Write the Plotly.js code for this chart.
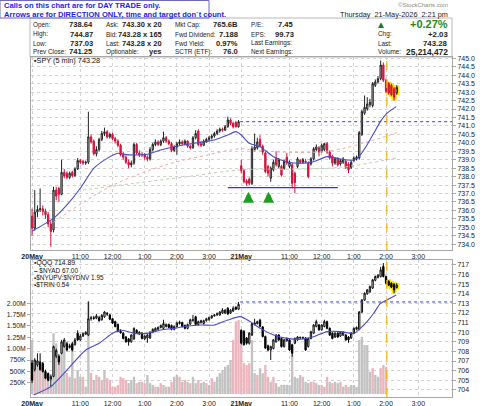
<!DOCTYPE html>
<html><head><meta charset="utf-8">
<script src="https://cdn.plot.ly/plotly-3.0.1.min.js"></script>
<style>html,body{margin:0;padding:0;background:#fff}#chart{width:480px;height:406px}</style>
</head><body><div id="chart"></div>
<script>
// ---------- DATA ----------
const tickBars = [0, 18, 30, 42, 54, 66, 78, 96, 108, 120, 132, 144];
const tickLabels = ['<b>20May</b>', '11:00', '12:00', '1:00', '2:00', '3:00', '<b>21May</b>', '11:00', '12:00', '1:00', '2:00', '3:00'];

const spyOpen = [735.65,734.95,735.90,736.05,736.10,735.95,735.75,735.20,734.85,737.20,
737.30,736.95,738.25,738.20,737.95,738.25,738.05,738.45,738.95,738.90,
738.80,738.85,740.35,740.10,739.35,739.60,740.20,740.55,740.65,740.35,
740.50,740.25,740.10,739.85,739.30,739.15,738.85,738.70,738.80,739.90,
739.40,739.30,739.30,739.15,739.05,739.60,739.90,740.05,739.90,740.10,
740.30,740.10,739.95,739.55,739.75,739.95,740.05,739.95,740.10,739.80,
739.70,740.30,740.70,739.95,739.85,740.10,740.20,740.30,740.40,740.55,
740.70,740.80,740.75,740.95,741.35,741.15,741.20,740.95,
738.64,738.35,737.75,737.85,737.60,739.60,739.70,740.20,739.80,739.40,
738.60,737.90,738.40,739.10,738.60,738.60,738.50,739.15,738.60,738.70,
738.20,738.60,738.95,738.85,738.90,738.80,738.75,739.05,739.60,739.70,
739.50,739.60,739.95,739.45,739.20,738.80,739.05,738.75,738.85,738.90,
738.75,738.55,738.95,739.05,739.10,740.50,741.75,742.00,742.25,742.20,
743.40,743.60,743.80,744.60,743.70,743.50,743.40,743.20,742.95];
const spyHigh = [736.10,737.20,736.30,737.30,736.30,736.10,735.90,735.40,737.40,737.40,
737.40,739.00,738.45,738.30,738.30,738.35,738.55,739.10,739.05,739.00,
738.95,741.84,740.50,740.20,739.80,740.30,740.70,740.90,740.75,740.60,
740.60,740.35,740.20,739.95,739.45,739.25,739.00,738.95,740.00,740.00,
739.55,739.45,739.40,739.25,739.75,740.00,740.20,740.15,740.20,740.66,
740.40,740.20,740.05,739.85,740.05,740.20,740.15,740.20,740.15,739.90,
740.40,740.75,740.80,740.10,740.20,740.30,740.40,740.50,740.65,740.80,
740.90,740.90,741.05,741.55,741.45,741.25,741.30,741.35,
739.00,738.45,737.85,737.95,739.80,740.55,740.30,740.45,739.90,739.50,
738.70,738.60,739.00,739.50,739.10,738.70,739.00,739.40,738.95,738.80,
738.30,739.15,739.05,739.10,739.05,738.90,739.15,739.75,739.90,739.80,
739.95,740.00,740.05,739.55,739.30,739.15,739.15,739.05,739.15,739.00,
738.85,738.95,739.20,739.25,740.70,741.95,742.80,742.70,742.60,743.60,
743.75,743.95,744.87,744.75,743.80,743.60,743.50,743.30,743.40];
const spyLow = [734.50,734.80,735.60,735.90,735.70,735.50,735.00,733.85,734.70,736.60,
736.50,736.90,737.90,737.85,737.85,737.95,738.00,738.40,738.75,738.70,
738.70,738.75,739.95,739.25,739.20,739.50,740.10,740.40,740.25,740.25,
740.15,739.95,739.75,739.20,739.00,738.75,738.50,738.55,738.70,739.30,
739.15,739.15,739.00,738.90,738.95,739.50,739.80,739.80,739.80,740.00,
740.00,739.85,739.45,739.45,739.30,739.85,739.85,739.85,739.70,739.60,
739.65,740.20,739.80,739.75,739.80,740.00,740.10,740.20,740.30,740.45,
740.60,740.65,740.70,740.90,741.05,740.85,740.90,740.90,
738.20,737.60,737.45,737.50,737.50,739.50,739.60,739.75,739.30,738.20,
738.00,737.70,738.30,738.60,738.50,738.00,738.40,738.70,738.50,737.30,
737.03,738.50,738.75,738.75,738.80,737.90,738.65,738.95,739.50,739.20,
739.40,739.50,739.35,739.00,738.60,738.70,738.60,738.65,738.75,738.45,
738.20,738.45,738.85,738.95,739.00,740.40,741.65,741.90,742.10,742.10,
743.30,743.50,743.70,743.60,742.95,742.85,742.75,742.50,742.85];
const spyClose = [734.95,735.90,736.05,736.10,735.95,735.75,735.20,734.75,737.20,736.85,
736.95,738.25,738.05,737.95,738.20,738.05,738.45,738.95,738.85,738.80,
738.85,740.35,740.05,739.35,739.60,740.20,740.55,740.65,740.35,740.50,
740.25,740.10,739.85,739.30,739.15,738.85,738.70,738.80,739.90,739.40,
739.30,739.30,739.15,739.05,739.60,739.90,740.05,739.90,740.10,740.30,
740.10,739.95,739.55,739.75,739.95,740.05,739.95,740.10,739.80,739.70,
740.30,740.55,739.90,739.85,740.10,740.20,740.30,740.40,740.55,740.70,
740.80,740.75,740.95,741.35,741.15,740.95,740.95,741.25,
738.35,737.70,737.60,737.60,739.65,739.75,740.05,739.80,739.45,738.30,
738.20,738.50,738.85,738.70,739.00,738.10,738.90,738.80,738.85,737.60,
737.65,739.05,738.85,739.00,738.85,738.00,739.05,739.65,739.75,739.45,
739.85,739.95,739.45,739.10,738.80,739.05,738.70,738.95,739.05,738.55,
738.40,738.85,739.10,739.15,740.60,741.85,742.10,742.30,742.40,743.50,
743.60,743.80,744.60,743.70,743.05,742.95,742.85,742.70,743.28];

const spyMaBars = [0,8,13,18,23,28,32,35,38,43,48,53,58,63,68,73,76,78,81,85,90,95,100,105,110,115,120,122.4,124.9,127.4,129.9,132.3,135.8];
const spyMaVals = [734.78,735.53,736.32,737.31,738.49,739.08,739.38,739.30,739.28,739.32,739.57,739.77,739.91,740.03,740.17,740.46,740.66,740.46,739.97,739.77,739.18,738.88,738.79,738.88,739.18,739.04,738.98,739.28,739.87,740.56,741.25,741.74,742.14];
const spyMa2Bars = [8,29,50,63,78,83,110,136];
const spyMa2Vals = [735.30,737.40,738.70,739.20,739.65,739.55,739.50,740.60];
const spyMa3Bars = [19,38,58,78,100,115,136];
const spyMa3Vals = [737.20,737.60,738.00,738.40,738.45,738.55,739.10];
const spyPrevClose = 741.25;
const supportBars = [73, 114];
const supportPrice = [737.35, 737.35];
const arrowBars = [80.7, 88.2];
const arrowPrice = [737.1, 737.1];
const highlightFrom = 133;
const markerBar = 132.3;

const qqqOpen = [706.80,706.10,706.60,706.90,706.75,705.90,705.70,705.10,705.40,707.50,
707.50,707.80,708.50,708.80,708.40,708.80,708.70,709.90,709.20,709.60,
709.80,709.70,711.40,711.50,711.45,711.50,711.30,711.60,711.95,711.80,
711.40,711.10,710.80,710.10,709.90,709.50,709.30,709.00,709.30,710.20,
709.80,709.90,709.30,709.40,709.40,710.00,710.10,710.30,710.50,710.40,
710.60,710.80,710.70,710.30,710.60,710.90,711.00,710.70,710.40,710.85,
711.20,711.60,710.80,711.00,710.90,711.20,711.30,711.50,711.70,711.80,
711.80,712.00,712.00,712.50,712.00,712.20,712.60,712.40,
710.20,710.10,709.40,708.85,709.70,710.80,710.90,711.25,710.55,709.55,
708.60,708.15,708.30,709.00,709.70,709.35,708.50,709.10,709.20,708.70,
708.85,709.20,709.40,709.35,709.40,708.50,709.35,709.90,710.60,710.75,
710.25,710.60,711.10,710.40,709.90,709.50,709.90,709.60,709.70,709.70,
709.50,709.40,709.90,710.30,710.30,712.10,713.35,714.00,714.20,714.60,
715.40,715.70,715.80,716.85,715.80,715.30,715.10,715.00,714.65];
const qqqHigh = [707.10,707.30,707.80,707.80,706.90,706.10,705.80,705.60,708.60,708.30,
707.70,709.20,709.40,709.00,708.80,709.00,709.40,710.20,709.80,710.00,
710.10,713.20,711.70,711.70,711.90,711.70,711.90,712.20,712.10,711.90,
711.50,711.20,710.90,710.30,710.00,709.60,709.40,709.80,710.50,710.30,
710.10,710.00,709.70,709.80,710.10,710.40,710.50,710.60,710.80,711.30,
710.90,710.90,710.80,710.70,711.10,711.20,711.10,710.80,710.90,711.40,
711.80,711.70,711.20,711.30,711.30,711.50,711.60,711.80,711.90,712.05,
712.20,712.50,712.40,712.60,712.40,712.70,712.70,713.15,
710.30,710.20,709.50,710.00,711.00,711.40,711.20,711.40,710.65,709.65,
708.70,708.60,709.30,709.80,709.80,709.45,709.30,709.45,709.30,708.80,
709.45,709.60,709.55,709.55,709.50,709.45,710.15,710.85,711.30,710.85,
710.85,711.30,711.20,710.50,710.00,710.00,710.00,710.10,710.10,709.80,
709.60,710.00,710.50,710.60,712.20,713.45,714.15,714.50,714.85,715.55,
715.90,716.05,716.80,717.20,715.90,715.40,715.20,715.10,715.10];
const qqqLow = [704.70,705.90,706.40,706.00,705.80,705.10,704.90,704.30,705.30,707.30,
706.60,707.70,708.40,708.00,708.30,708.00,708.60,709.10,709.10,709.50,
709.70,709.60,711.20,711.30,711.35,711.10,711.20,711.50,711.70,711.25,
710.85,710.50,710.00,709.85,709.25,708.90,708.60,708.90,709.20,709.85,
709.70,709.25,709.20,708.90,709.30,709.90,710.00,710.20,710.40,710.30,
710.50,710.40,710.20,710.20,710.50,710.80,710.50,710.30,710.30,710.75,
711.10,710.70,710.70,710.90,710.80,711.10,711.20,711.40,711.60,711.70,
711.70,711.90,711.90,711.80,711.90,712.10,712.30,712.30,
708.70,708.60,708.70,708.70,709.60,710.70,710.80,710.50,709.45,708.25,
708.00,707.10,708.20,708.90,709.10,708.40,708.40,709.00,708.05,707.45,
708.75,709.10,709.30,709.25,708.05,708.40,709.25,709.80,710.50,710.15,
710.15,710.50,710.30,709.60,709.25,709.40,709.40,709.50,709.60,709.10,
708.90,709.30,709.80,710.20,710.20,712.00,713.25,713.90,714.10,714.50,
715.30,715.60,715.70,715.70,715.00,714.80,714.60,714.05,714.55];
const qqqClose = [705.00,707.10,707.00,706.10,705.90,705.20,705.00,705.40,708.50,708.10,
706.90,709.00,709.20,708.15,708.60,708.15,709.20,709.20,709.60,709.85,
710.00,711.40,711.50,711.45,711.70,711.20,711.75,712.10,711.90,711.35,
710.95,710.60,710.10,709.95,709.35,709.00,709.00,709.70,710.40,709.95,
710.00,709.35,709.60,709.70,710.00,710.30,710.40,710.50,710.70,710.90,
710.80,710.50,710.30,710.60,710.95,711.05,710.60,710.40,710.80,711.30,
711.30,710.80,711.10,711.20,711.20,711.40,711.55,711.70,711.80,711.95,
712.10,712.30,712.30,711.90,712.30,712.50,712.40,712.90,
708.85,708.70,708.85,709.90,710.90,710.95,711.10,710.60,709.55,708.35,
708.15,708.50,709.20,709.70,709.20,708.50,709.20,709.35,708.15,707.80,
709.35,709.50,709.45,709.45,708.15,709.35,710.05,710.75,711.10,710.25,
710.75,711.10,710.40,709.70,709.35,709.90,709.50,710.00,710.00,709.20,
709.20,709.90,710.40,710.50,712.10,713.35,714.05,714.40,714.75,715.45,
715.80,715.95,716.50,715.80,715.10,714.90,714.70,714.40,714.89];

const qqqMaBars = [0.6,7,13,20,25,30,33,38,43,48,53,58,63,68,73,77.6,81.4,85.1,90.1,95.1,100.1,105,110,115,120,122.4,124.9,127.4,129.9,132.3,135.8];
const qqqMaVals = [703.46,704.33,706.06,708.15,708.84,709.88,710.23,709.88,709.88,710.23,710.40,710.65,710.75,710.75,711.27,711.62,711.10,710.40,709.71,709.36,709.26,709.53,710.06,710.06,709.88,710.40,711.10,711.97,713.01,713.35,713.87];
const qqqPrevClose = 713.15;

// volume, millions of shares; volDown: 1 = down bar (pink)
const volM = [1.19,0.64,0.75,0.53,0.60,0.38,0.31,0.20,1.34,1.12,
0.75,1.12,1.08,0.46,0.38,0.97,0.35,0.53,0.38,0.38,
0.16,2.04,0.46,0.31,0.42,0.38,0.31,0.53,0.35,0.31,
0.16,0.16,0.20,0.38,0.35,0.31,0.24,0.31,0.38,0.24,
0.27,0.27,0.24,0.42,0.24,0.20,0.16,0.16,0.24,0.20,
0.16,0.16,0.27,0.38,0.42,0.38,0.27,0.31,0.27,0.24,
0.38,0.24,0.31,0.24,0.27,0.24,0.20,0.35,0.27,0.38,
0.46,0.53,0.60,0.64,0.75,1.19,1.60,1.63,
1.08,0.68,0.64,0.68,1.19,0.46,0.42,0.57,0.46,0.64,
0.38,0.27,0.38,0.24,0.16,0.20,0.20,0.20,0.20,0.86,
0.38,0.35,0.42,0.38,0.27,0.24,0.27,0.27,0.24,0.20,
0.20,0.16,0.38,0.27,0.24,0.27,0.24,0.27,0.16,0.20,
0.16,0.20,0.20,0.16,1.19,1.26,1.08,1.08,0.49,0.57,
0.42,0.38,0.57,0.64,0.60];
const volDown = [0,1,0,1,0,1,0,1,0,0,
1,0,0,1,0,0,1,0,0,1,
0,0,1,0,1,0,1,0,1,1,
1,1,1,1,1,1,0,0,0,1,
0,1,1,0,0,0,1,0,1,0,
1,0,1,0,0,1,0,1,0,1,
0,0,1,0,0,1,0,1,0,0,
0,0,0,0,0,1,1,1,
1,1,1,1,0,0,1,0,0,1,
1,0,1,0,0,0,0,0,0,0,
0,0,0,1,0,0,1,1,0,0,
1,0,1,0,1,0,0,1,0,1,
0,0,0,0,0,0,0,0,0,1,
0,0,1,1,1];
const volTickVals = [0.25,0.5,0.75,1.0,1.25,1.5,1.75,2.0];
const volTickText = ['250K','500K','750K','1.00M','1.25M','1.50M','1.75M','2.00M'];

// ---------- CHART ----------
const W = 480, H = 406;
const px = x => x / W, py = y => 1 - y / H;
const FONT = 'Liberation Sans, Arial, sans-serif';
const bars = spyClose.map((_, i) => i);
const qBars = qqqClose.map((_, i) => i);
const vBars = volM.map((_, i) => i);
const XR = [-0.4, 156.6];

const traces = [];
// upper: SPY
traces.push({type:'candlestick', xaxis:'x', yaxis:'y', x:bars.slice(highlightFrom),
  open:spyOpen.slice(highlightFrom), high:spyHigh.slice(highlightFrom), low:spyLow.slice(highlightFrom), close:spyClose.slice(highlightFrom),
  increasing:{line:{color:'#ffe600', width:4}, fillcolor:'#ffe600'},
  decreasing:{line:{color:'#ffe600', width:4}, fillcolor:'#ffe600'}, hoverinfo:'skip', showlegend:false});
traces.push({type:'scatter', mode:'lines', xaxis:'x', yaxis:'y', x:spyMa2Bars, y:spyMa2Vals,
  line:{color:'#eeaaaa', width:1, dash:'dot', shape:'spline'}, hoverinfo:'skip'});
traces.push({type:'scatter', mode:'lines', xaxis:'x', yaxis:'y', x:spyMa3Bars, y:spyMa3Vals,
  line:{color:'#b5cfb0', width:1, dash:'dot', shape:'spline'}, hoverinfo:'skip'});
traces.push({type:'candlestick', xaxis:'x', yaxis:'y', x:bars, open:spyOpen, high:spyHigh, low:spyLow, close:spyClose,
  increasing:{line:{color:'#222222', width:1}, fillcolor:'#d6d6d6'},
  decreasing:{line:{color:'#d0103a', width:1}, fillcolor:'#e8164a'}, whiskerwidth:0, showlegend:false});
traces.push({type:'scatter', mode:'lines', xaxis:'x', yaxis:'y', x:spyMaBars, y:spyMaVals,
  line:{color:'#4a4ac8', width:1.1, shape:'spline', smoothing:0.6}, hoverinfo:'skip'});
traces.push({type:'scatter', mode:'lines', xaxis:'x', yaxis:'y', x:supportBars, y:supportPrice,
  line:{color:'#3030f0', width:1.3}, hoverinfo:'skip'});

// lower: volume (base axis) + QQQ (overlay axis)
traces.push({type:'bar', xaxis:'x2', yaxis:'y3', x:vBars, y:volM,
  marker:{color:volDown.map(d => d ? '#ecb4bd' : '#c2c2c2'), line:{width:0}}, hoverinfo:'skip'});
traces.push({type:'candlestick', xaxis:'x2', yaxis:'y4', x:qBars.slice(highlightFrom),
  open:qqqOpen.slice(highlightFrom), high:qqqHigh.slice(highlightFrom), low:qqqLow.slice(highlightFrom), close:qqqClose.slice(highlightFrom),
  increasing:{line:{color:'#ffe600', width:4}, fillcolor:'#ffe600'},
  decreasing:{line:{color:'#ffe600', width:4}, fillcolor:'#ffe600'}, hoverinfo:'skip', showlegend:false});
traces.push({type:'candlestick', xaxis:'x2', yaxis:'y4', x:qBars, open:qqqOpen, high:qqqHigh, low:qqqLow, close:qqqClose,
  increasing:{line:{color:'#111111', width:1}, fillcolor:'#ffffff'},
  decreasing:{line:{color:'#000000', width:1}, fillcolor:'#000000'}, whiskerwidth:0, showlegend:false});
traces.push({type:'scatter', mode:'lines', xaxis:'x2', yaxis:'y4', x:qqqMaBars, y:qqqMaVals,
  line:{color:'#4a4ac8', width:1.1, shape:'spline', smoothing:0.6}, hoverinfo:'skip'});

const grid = {showgrid:true, gridcolor:'#d2d2d2', griddash:'dot', gridwidth:1, zeroline:false,
  showline:true, mirror:true, linecolor:'#a8a8a8', linewidth:1};
const xBase = Object.assign({}, grid, {domain:[px(31), px(452)], range:XR, tickmode:'array', tickvals:tickBars,
  ticktext:tickLabels, ticks:'', tickfont:{size:7, color:'#222', family:FONT}, rangeslider:{visible:false}, fixedrange:true});

const ann = [];
function t(x, y, s, o) {
  o = o || {};
  ann.push({xref:'paper', yref:'paper', x:px(x), y:py(y), text:s, showarrow:false,
    xanchor:o.a || 'left', yanchor:'middle', borderpad:0,
    font:{family:FONT, size:o.s || 7.5, color:o.c || '#222'}});
}
// note box
t(3, 6, '<b>Calls on this chart are for DAY TRADE only.</b>', {s:7.6, c:'#1f1fe0'});
t(3, 14.5, '<b>Arrows are for DIRECTION ONLY, time and target don`t count.</b>', {s:7.6, c:'#1f1fe0'});
// header table
t(449, 5, '©StockCharts.com', {a:'right', s:6, c:'#8a8a8a'});
t(449, 14.5, 'Thursday  21-May-2026  2:21 pm', {a:'right', s:7.3});
const rows = [25, 34, 43, 51.7];
const c1 = ['Open:', 'High:', 'Low:', 'Prev Close:'], v1 = ['738.64', '744.87', '737.03', '741.25'];
const c2 = ['Ask:', 'Bid:', 'Last:', 'Optionable:'], v2 = ['743.30 x 20', '743.28 x 165', '743.28 x 20', 'yes'];
const c3 = ['Mkt Cap:', 'Fwd Dividend:', 'Fwd Yield:', 'SCTR (ETF):'], v3 = ['765.6B', '7.188', '0.97%', '76.0'];
const c4 = ['P/E:', 'EPS:', 'Last Earnings:', 'Next Earnings:'], v4 = ['7.45', '99.73', '', ''];
const c5 = ['', 'Chg:', 'Last:', 'Volume:'], v5 = ['', '+2.03', '743.28', '25,214,472'];
rows.forEach((y, i) => {
  t(32, y, c1[i], {s:6.4}); t(94, y, '<b>' + v1[i] + '</b>', {a:'right', s:7.6});
  t(105, y, c2[i], {s:6.4}); t(163, y, '<b>' + v2[i] + '</b>', {a:'right', s:7.5});
  t(174, y, c3[i], {s:6.4}); t(239, y, '<b>' + v3[i] + '</b>', {a:'right', s:7.6});
  t(250, y, c4[i], {s:6.4}); if (v4[i]) t(295, y, '<b>' + v4[i] + '</b>', {a:'right', s:7.6});
  if (c5[i]) t(377, y, c5[i], {s:6.4});
  if (v5[i]) t(449, y, '<b>' + v5[i] + '</b>', {a:'right', s:i === 3 ? 8.4 : 7.8});
});
t(381, 25, '▲', {a:'center', s:10, c:'#1c7c1c'});
t(449, 24.5, '<b>+0.27%</b>', {a:'right', s:11, c:'#1c8c1c'});
// panel legends
t(33, 61, '<b>▪</b>SPY (5 min) 743.28', {s:7.3, c:'#111'});
t(33, 263, '<b>▪</b>QQQ 714.89', {s:6.8, c:'#111'});
t(33, 270, '<b>–</b> $NYAD 67.00', {s:6.4, c:'#111'});
t(33, 277, '<b>▪</b>$NYUPV:$NYDNV 1.95', {s:6.4, c:'#111'});
t(33, 284, '<b>▪</b>$TRIN 0.54', {s:6.4, c:'#111'});
// arrows
arrowBars.forEach((b, i) => ann.push({xref:'x', yref:'y', x:b, y:arrowPrice[i], text:'', showarrow:true,
  ax:0, ay:11, arrowhead:2, arrowsize:0.55, arrowwidth:4, arrowcolor:'#1e9e1e'}));

const shapes = [
  {type:'rect', xref:'paper', yref:'paper', x0:px(30), x1:px(452), y0:py(57), y1:py(18), line:{color:'#b8b8b8', width:1}, layer:'below'},
  {type:'line', xref:'x', yref:'y', x0:77.6, x1:XR[1], y0:spyPrevClose, y1:spyPrevClose, line:{color:'#3a3ae0', width:1, dash:'dot'}},
  {type:'line', xref:'x2', yref:'y4', x0:77.6, x1:XR[1], y0:qqqPrevClose, y1:qqqPrevClose, line:{color:'#3a3ae0', width:1, dash:'dot'}},
  {type:'line', xref:'x', yref:'paper', x0:markerBar, x1:markerBar, y0:py(250), y1:py(57), line:{color:'#f5b400', width:1.2, dash:'dash'}},
  {type:'line', xref:'x2', yref:'paper', x0:markerBar, x1:markerBar, y0:py(397), y1:py(260), line:{color:'#f5b400', width:1.2, dash:'dash'}},
  {type:'rect', xref:'paper', yref:'paper', x0:0, x1:px(209), y0:py(18), y1:py(0.5), line:{color:'#6b6bb5', width:1}, fillcolor:'rgba(255,255,255,0)'}
];

const layout = {
  width:W, height:H, margin:{l:0, r:0, t:0, b:0, pad:0}, autosize:false,
  paper_bgcolor:'#ffffff', plot_bgcolor:'#ffffff', showlegend:false, bargap:0.12,
  font:{family:FONT, size:7, color:'#222'},
  xaxis:Object.assign({}, xBase, {anchor:'y'}),
  xaxis2:Object.assign({}, xBase, {anchor:'y3', matches:'x'}),
  yaxis:Object.assign({}, grid, {domain:[py(250), py(57)], anchor:'x', side:'right', range:[733.657, 745.077],
    dtick:0.5, tick0:0, tickformat:'.1f', ticks:'outside', ticklen:3, tickcolor:'#aaa',
    tickfont:{size:7, color:'#222', family:FONT}, fixedrange:true}),
  yaxis3:{domain:[py(397), py(260)], anchor:'x2', side:'left', range:[-0.066, 2.955], tickmode:'array',
    tickvals:volTickVals, ticktext:volTickText, showgrid:false, zeroline:false, ticks:'outside', ticklen:3, tickcolor:'#aaa',
    showline:true, mirror:true, linecolor:'#a8a8a8', tickfont:{size:6.8, color:'#222', family:FONT}, fixedrange:true},
  yaxis4:Object.assign({}, grid, {overlaying:'y3', anchor:'x2', side:'right', range:[703.25, 717.52], dtick:1, tick0:0,
    ticks:'outside', ticklen:3, tickcolor:'#aaa', tickfont:{size:7, color:'#222', family:FONT}, fixedrange:true}),
  annotations:ann, shapes:shapes
};
Plotly.newPlot('chart', traces, layout, {staticPlot:true, displayModeBar:false});
</script></body></html>
